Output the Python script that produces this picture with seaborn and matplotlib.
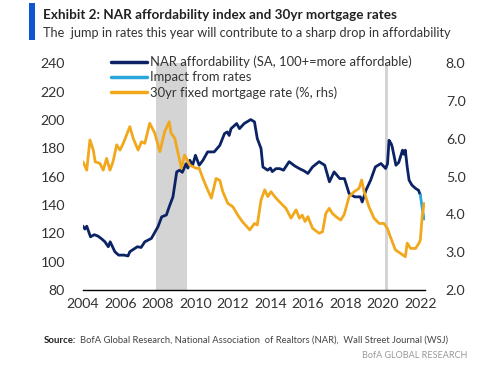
import pandas as pd
import seaborn as sns
import matplotlib.pyplot as plt
from matplotlib.patches import Rectangle

# NAR affordability index (lhs)
nar_year = [2004.0, 2004.1, 2004.2, 2004.4, 2004.6, 2004.8, 2005.0, 2005.17, 2005.35, 2005.45,
            2005.7, 2005.9, 2006.2, 2006.4, 2006.5, 2006.9, 2007.1, 2007.3, 2007.65, 2008.0,
            2008.2, 2008.45, 2008.6, 2008.8, 2009.0, 2009.15, 2009.3, 2009.5, 2009.6, 2009.7,
            2009.85, 2010.0, 2010.2, 2010.4, 2010.65, 2011.0, 2011.3, 2011.55, 2011.7, 2011.8,
            2011.9, 2012.2, 2012.35, 2012.6, 2012.95, 2013.15, 2013.3, 2013.5, 2013.6, 2013.85,
            2014.0, 2014.1, 2014.3, 2014.5, 2014.7, 2015.0, 2015.3, 2015.55, 2015.8, 2016.0,
            2016.25, 2016.6, 2016.9, 2017.15, 2017.4, 2017.7, 2017.95, 2018.2, 2018.5, 2018.8,
            2018.9, 2019.1, 2019.35, 2019.6, 2019.9, 2020.15, 2020.25, 2020.33, 2020.45, 2020.5,
            2020.7, 2020.85, 2021.05, 2021.12, 2021.2, 2021.3, 2021.4, 2021.55, 2021.75, 2021.9,
            2022.0]
nar_value = [125, 123, 125, 117.5, 119, 118, 116, 114, 110.5, 114,
             107, 104.6, 104.6, 104, 107, 110.5, 110, 114, 116.4, 124.6,
             131.6, 132.9, 138.7, 145.7, 163.3, 164.5, 163, 169, 166, 171.5,
             168, 175, 168, 171.5, 177.4, 177.4, 182, 190.3, 191.5, 189,
             193.8, 197.4, 193.8, 197.4, 200.2, 198.6, 186.8, 179.8, 166.8, 164.5,
             166, 163.5, 165.6, 165.6, 164.5, 170.5, 167.5, 165.6, 164, 162.2,
             166.8, 170.5, 168, 156.3, 163.3, 158.6, 158.6, 148, 145.7, 145.7,
             142.1, 150.4, 157.5, 166.8, 169.2, 165.7, 169, 185.6, 183, 181,
             168, 170, 178.6, 175.8, 178.6, 166.8, 157.5, 154, 151.6, 150.4,
             147]

# impact from higher rates
impact_year = [2022.0, 2022.1, 2022.2]
impact_value = [147, 138, 130]

# 30yr fixed mortgage rate (rhs)
rate_year = [2004.0, 2004.2, 2004.37, 2004.55, 2004.65, 2004.9, 2005.08, 2005.26, 2005.44, 2005.6,
             2005.8, 2005.97, 2006.15, 2006.5, 2006.68, 2006.94, 2007.12, 2007.3, 2007.56, 2007.83,
             2008.1, 2008.36, 2008.6, 2008.7, 2008.9, 2009.07, 2009.25, 2009.42, 2009.7, 2010.05,
             2010.2, 2010.4, 2010.65, 2010.85, 2011.1, 2011.3, 2011.46, 2011.73, 2012.0, 2012.26,
             2012.5, 2012.9, 2013.15, 2013.3, 2013.5, 2013.7, 2013.86, 2014.03, 2014.3, 2014.57,
             2014.83, 2015.1, 2015.37, 2015.55, 2015.7, 2015.85, 2016.0, 2016.25, 2016.6, 2016.78,
             2016.96, 2017.14, 2017.3, 2017.5, 2017.75, 2017.94, 2018.2, 2018.47, 2018.73, 2018.87,
             2019.0, 2019.26, 2019.53, 2019.8, 2020.06, 2020.24, 2020.4, 2020.67, 2020.94, 2021.2,
             2021.3, 2021.48, 2021.75, 2021.93, 2022.0, 2022.1, 2022.2]
rate_value = [5.39, 5.17, 5.97, 5.70, 5.39, 5.35, 5.17, 5.48, 5.17, 5.39,
              5.84, 5.70, 5.88, 6.32, 6.01, 5.70, 5.92, 5.88, 6.41, 6.15,
              5.66, 6.19, 6.45, 6.15, 6.01, 5.62, 5.22, 5.57, 5.30, 5.22,
              5.22, 4.95, 4.65, 4.43, 4.95, 4.90, 4.60, 4.29, 4.20, 3.98,
              3.81, 3.59, 3.76, 3.72, 4.38, 4.65, 4.47, 4.60, 4.43, 4.29,
              4.16, 3.90, 4.12, 3.90, 3.98, 3.81, 3.94, 3.63, 3.50, 3.54,
              4.03, 4.16, 4.03, 3.94, 3.85, 4.00, 4.47, 4.60, 4.69, 4.91,
              4.60, 4.20, 3.90, 3.76, 3.76, 3.63, 3.41, 3.06, 2.97, 2.88,
              3.24, 3.10, 3.10, 3.24, 3.32, 3.94, 4.29]

# recessions
recessions = [(2007.92, 2009.55), (2020.12, 2020.3)]

left_ticks = [80, 100, 120, 140, 160, 180, 200, 220, 240]
right_ticks = [2.0, 3.0, 4.0, 5.0, 6.0, 7.0, 8.0]
x_ticks = [2004, 2006, 2008, 2010, 2012, 2014, 2016, 2018, 2020, 2022]

navy = '#0b2265'
light_blue = '#2aa6dc'
orange = '#f2a81d'

sns.set_style('white')
plt.rcParams['font.family'] = ['Lato', 'DejaVu Sans']

fig = plt.figure(figsize=(5, 3.65), dpi=100)
ax = fig.add_axes([0.166, 0.2055, 0.684, 0.6215])
ax2 = ax.twinx()

for start, end in recessions:
    ax.axvspan(start, end, color='#d4d4d4', lw=0, zorder=0)

sns.lineplot(x=nar_year, y=nar_value, ax=ax, color=navy, lw=2, label='NAR affordability (SA, 100+=more affordable)', legend=False)
sns.lineplot(x=impact_year, y=impact_value, ax=ax, color=light_blue, lw=2, label='Impact from rates', legend=False)
sns.lineplot(x=rate_year, y=rate_value, ax=ax2, color=orange, lw=2, label='30yr fixed mortgage rate (%, rhs)', legend=False)

ax.set_xlim(2004, 2022.25)
ax.set_ylim(80, 240)
ax2.set_ylim(2, 8)
ax.set_yticks(left_ticks)
ax2.set_yticks(right_ticks)
ax2.set_yticklabels([f'{t:.1f}' for t in right_ticks])
ax.set_xticks(x_ticks)

for a in (ax, ax2):
    for s in ('top', 'left', 'right', 'bottom'):
        a.spines[s].set_visible(False)
    a.tick_params(length=0, labelsize=10.2, labelcolor='#333333')
ax.spines['bottom'].set_visible(True)
ax.spines['bottom'].set_color('black')
ax.spines['bottom'].set_linewidth(1)
ax.tick_params(axis='y', pad=13)
ax2.tick_params(axis='y', pad=15)
ax.tick_params(axis='x', pad=6)
ax.set_xlabel('')
ax.set_ylabel('')
ax2.set_ylabel('')
ax.patch.set_visible(False)
ax2.patch.set_visible(False)

h1, l1 = ax.get_legend_handles_labels()
h2, l2 = ax2.get_legend_handles_labels()
leg = ax2.legend(h1 + h2, l1 + l2, loc='upper left', bbox_to_anchor=(0.068, 1.055), frameon=False,
                 fontsize=9.4, handlelength=2.75, handletextpad=0.2, labelspacing=0.22,
                 borderaxespad=0)
for line in leg.get_lines():
    line.set_linewidth(2.5)
for t in leg.get_texts():
    t.set_color('#333333')

# title block
fig.patches.append(Rectangle((0.058, 0.89), 0.012, 0.102, transform=fig.transFigure,
                             color='#1055d0', lw=0))
fig.text(0.086, 0.958, 'Exhibit 2: NAR affordability index and 30yr mortgage rates',
         fontsize=9.7, fontweight='bold', color='#222222', va='center')
fig.text(0.086, 0.91, 'The  jump in rates this year will contribute to a sharp drop in affordability',
         fontsize=9.2, color='#333333', va='center')
fig.text(0.088, 0.068, 'Source:', fontsize=6.9, fontweight='bold', color='#222222', va='center')
fig.text(0.16, 0.068, 'BofA Global Research, National Association  of Realtors (NAR),  Wall Street Journal (WSJ)',
         fontsize=6.75, color='#444444', va='center')
fig.text(0.935, 0.027, 'BofA GLOBAL RESEARCH', fontsize=6.5, color='#999999', va='center', ha='right')

plt.savefig('out.png', dpi=100)
